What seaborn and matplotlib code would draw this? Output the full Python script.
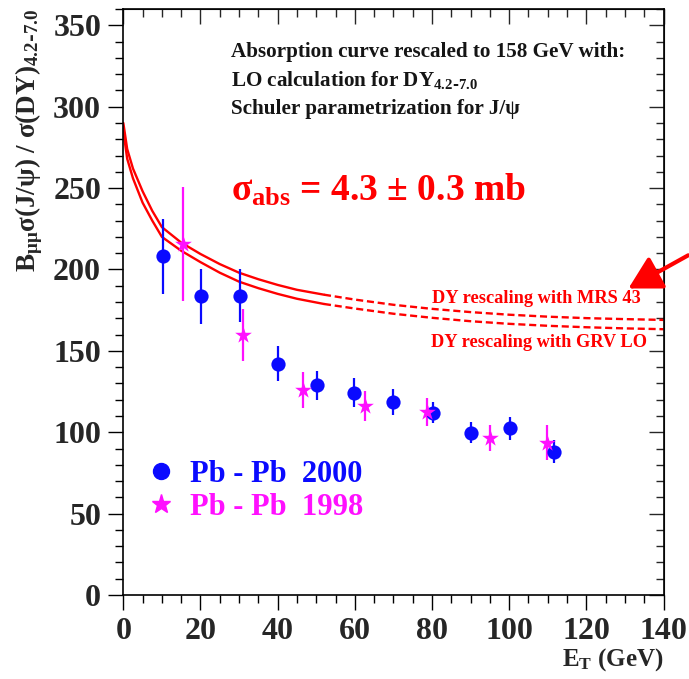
import numpy as np
import pandas as pd
import matplotlib
matplotlib.use("Agg")
import matplotlib.pyplot as plt
import seaborn as sns
from matplotlib.lines import Line2D
from matplotlib.ticker import MultipleLocator

# ---- data ----
et_2000 = [10.4, 20.2, 30.3, 40.2, 50.1, 59.9, 70.0, 80.2, 90.1, 100.1, 111.5]
ratio_2000 = [208.0, 183.5, 184.0, 142.2, 128.9, 124.2, 118.7, 112.1, 99.6, 102.3, 88.0]
err_2000 = [23.0, 17.0, 16.0, 11.0, 9.0, 9.0, 8.0, 6.5, 6.5, 7.0, 7.0]

et_1998 = [15.4, 30.9, 46.5, 62.7, 78.8, 95.1, 109.9]
ratio_1998 = [215.5, 160.0, 125.8, 116.2, 112.5, 96.6, 93.5]
err_1998 = [35.0, 16.0, 11.0, 9.0, 8.5, 8.0, 10.7]

curve_et = [0, 1, 2.5, 5, 7.5, 10, 15, 20, 25, 30, 35, 40, 45, 52,
            60, 70, 80, 90, 100, 110, 120, 130, 140]
curve_mrs = [290, 274, 262, 248, 236, 226, 216.5, 209.5, 203.3, 198, 194, 190.5, 187.5, 184.5,
             181.5, 178.3, 175.8, 173.8, 172.2, 171, 170.1, 169.5, 169]
curve_grv = [285, 268, 256, 241, 230, 220, 211.5, 204.5, 198, 192.5, 188.5, 185, 182, 178.8,
             176, 172.8, 170.3, 168.2, 166.6, 165.4, 164.5, 163.8, 163.3]
solid_until = 52

BLUE = "#0a0aff"
MAGENTA = "#ff10ff"
RED = "#ff0000"
DARK = "#151515"

sns.set_style("white")
plt.rcParams["font.family"] = ["Liberation Serif", "DejaVu Serif"]
plt.rcParams["font.weight"] = "bold"
plt.rcParams["mathtext.default"] = "regular"

fig = plt.figure(figsize=(6.89, 6.79), dpi=100)
ax = fig.add_axes([0.179, 0.1237, 0.784, 0.863])

# curves
cdf = pd.DataFrame({"et": curve_et, "mrs": curve_mrs, "grv": curve_grv})
solid = cdf[cdf.et <= solid_until]
dashed = cdf[cdf.et >= solid_until]
for col in ["mrs", "grv"]:
    sns.lineplot(data=solid, x="et", y=col, ax=ax, color=RED, lw=1.7, estimator=None, sort=False)
    sns.lineplot(data=dashed, x="et", y=col, ax=ax, color=RED, lw=1.7, estimator=None, sort=False,
                 linestyle=(0, (3, 1.6)))

# data points
ax.errorbar(et_2000, ratio_2000, yerr=err_2000, fmt="none", ecolor=BLUE, elinewidth=1.6, capsize=0, zorder=3)
ax.errorbar(et_1998, ratio_1998, yerr=err_1998, fmt="none", ecolor=MAGENTA, elinewidth=1.6, capsize=0, zorder=3)
sns.scatterplot(x=et_2000, y=ratio_2000, ax=ax, color=BLUE, marker="o", s=105, linewidth=0, zorder=4)
sns.scatterplot(x=et_1998, y=ratio_1998, ax=ax, color=MAGENTA, marker="*", s=160, linewidth=0, zorder=4)

ax.set_xlim(0, 140)
ax.set_ylim(0, 360)

ax.xaxis.set_major_locator(MultipleLocator(20))
ax.xaxis.set_minor_locator(MultipleLocator(5))
ax.yaxis.set_major_locator(MultipleLocator(50))
ax.yaxis.set_minor_locator(MultipleLocator(10))
ax.tick_params(which="both", direction="out", width=1.0, color="black",
               bottom=True, left=True, top=False, right=False)
ax.tick_params(which="major", length=11, labelsize=23, pad=5)
ax.tick_params(which="minor", length=5.5)
for lab in ax.get_xticklabels() + ax.get_yticklabels():
    lab.set_fontweight("bold")

for sp in ax.spines.values():
    sp.set_color("black")
    sp.set_linewidth(1.2)

secx = ax.secondary_xaxis("top")
secx.xaxis.set_major_locator(MultipleLocator(20))
secx.xaxis.set_minor_locator(MultipleLocator(5))
secx.tick_params(which="both", direction="in", width=1.0, labeltop=False)
secx.tick_params(which="major", length=11)
secx.tick_params(which="minor", length=5.5)
secy = ax.secondary_yaxis("right")
secy.yaxis.set_major_locator(MultipleLocator(50))
secy.yaxis.set_minor_locator(MultipleLocator(10))
secy.tick_params(which="both", direction="in", width=1.0, labelright=False)
secy.tick_params(which="major", length=11)
secy.tick_params(which="minor", length=5.5)

ax.set_xlabel("E$_T$ (GeV)", loc="right", fontsize=18, fontweight="bold", labelpad=0)
ax.set_ylabel(r"B$_{\mu\mu}$σ(J/ψ) / σ(DY)$_{4.2\text{-}7.0}$", loc="top", fontsize=19.5,
              fontweight="bold", labelpad=6)

# annotations
ax.text(28, 330.5, "Absorption curve rescaled to 158 GeV with:", fontsize=15.2, fontweight="bold",
        color=DARK, va="baseline")
ax.text(28, 313, r"LO calculation for DY$_{4.2\text{-}7.0}$", fontsize=15.2, fontweight="bold",
        color=DARK, va="baseline")
ax.text(28, 295.7, "Schuler parametrization for J/ψ", fontsize=15.2, fontweight="bold",
        color=DARK, va="baseline")
ax.text(28, 242.5, "σ$_{abs}$ = 4.3 ± 0.3 mb", fontsize=27, fontweight="bold", color=RED, va="baseline")
ax.text(134, 182.3, "DY rescaling with MRS 43", fontsize=13.2, fontweight="bold", color=RED,
        ha="right", va="center")
ax.text(135.6, 155.3, "DY rescaling with GRV LO", fontsize=13.2, fontweight="bold", color=RED,
        ha="right", va="center")
ax.annotate("", xy=(130.9, 188.3), xytext=(146.4, 208.7),
            arrowprops=dict(arrowstyle="-|>,head_length=0.9,head_width=0.5", color=RED, lw=3,
                            mutation_scale=22, shrinkA=0, shrinkB=0),
            annotation_clip=False)

handles = [Line2D([], [], marker="o", ls="none", color=BLUE, ms=11.5),
           Line2D([], [], marker="*", ls="none", color=MAGENTA, ms=14)]
leg = ax.legend(handles, ["Pb - Pb  2000", "Pb - Pb  1998"], loc="center left",
                bbox_to_anchor=(0.045, 0.178), frameon=False, handlelength=0.9,
                handletextpad=0.5, borderpad=0, borderaxespad=0, labelspacing=0.12,
                prop={"family": "Liberation Serif", "weight": "bold", "size": 22},
                labelcolor=[BLUE, MAGENTA])

fig.savefig("out.png", dpi=100)
